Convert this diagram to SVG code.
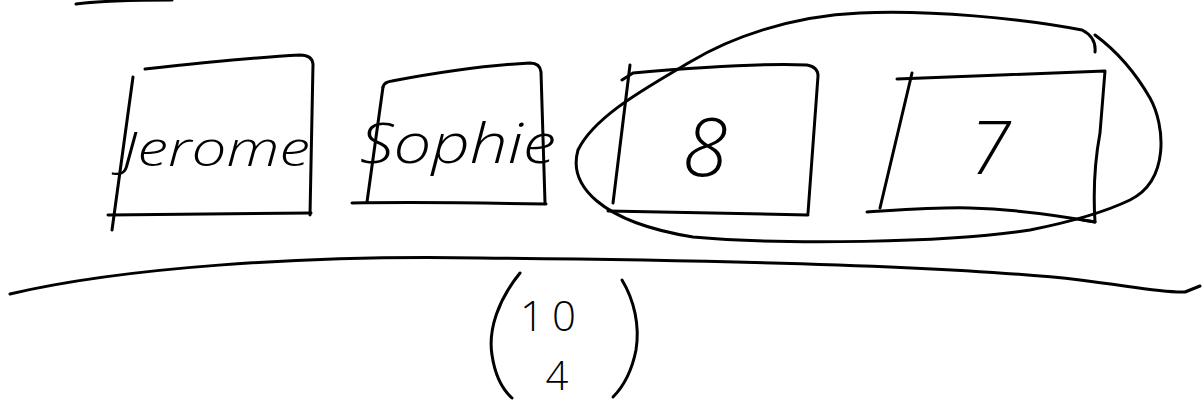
<svg xmlns="http://www.w3.org/2000/svg" width="1202" height="403" viewBox="0 0 1202 403">
<style>
.s{fill:none;stroke:#000;stroke-width:3;stroke-linecap:round;stroke-linejoin:round}
.t{font-family:"Open Sans","Liberation Sans",sans-serif;font-weight:300;fill:#000}
</style>
<rect width="1202" height="403" fill="#fff"/>
<g id="top-fragment"><path class="s" d="M76,4 C100,1 140,0 172,0" stroke-width="4"/></g>
<g id="node-jerome">
<path class="s" d="M145,69 C200,63 260,57 300,55 Q312,55 313,64 L310,215"/>
<path class="s" d="M133,77 L112,230"/>
<path class="s" d="M108,215 C180,214 250,213 311,213"/>
<text class="t" x="122" y="166" font-size="48" font-style="italic" textLength="188" lengthAdjust="spacingAndGlyphs">Jerome</text>
</g>
<g id="node-sophie">
<path class="s" d="M383,87 Q384,82 392,81 C440,72 490,65 530,63 Q540,63 541,72 L545,203"/>
<path class="s" d="M383,87 L367,202"/>
<path class="s" d="M352,203 C420,202 490,203 546,204"/>
<text class="t" x="360" y="163" font-size="56" font-style="italic" textLength="196" lengthAdjust="spacingAndGlyphs">Sophie</text>
</g>
<g id="node-8">
<path class="s" d="M630,65 L613,203"/>
<path class="s" d="M622,80 L633,73 C690,68 760,63 807,65 Q818,67 818,76 L808,213"/>
<path class="s" d="M608,211 C680,212 750,214 808,215"/>
<text class="t" x="705" y="176" font-size="82" text-anchor="middle" font-style="italic">8</text>
</g>
<g id="node-7">
<path class="s" d="M897,79 C960,77 1040,73 1105,71 L1100,133 C1095,160 1093,190 1095,222 L1083,220"/>
<path class="s" d="M912,73 L880,208"/>
<path class="s" d="M867,212 C900,210 940,207 970,208 C1010,209 1050,214 1095,222"/>
<text class="t" x="990" y="174" font-size="74" text-anchor="middle" font-style="italic">7</text>
</g>
<g id="group-loop">
<path class="s" d="M1095,52 C1096,42 1092,35 1082,30 C1020,18 930,10 860,13 C790,16 730,38 690,62 C650,86 595,115 578,150 C568,185 600,222 693,237 C780,245 950,243 1030,230 C1070,222 1105,212 1130,200 C1170,180 1165,125 1150,98 C1135,72 1118,52 1095,35"/>
</g>
<g id="divider">
<path class="s" d="M10,294 C120,268 300,255 480,258 C700,260 950,265 1080,280 C1130,286 1160,293 1185,292 L1200,286"/>
</g>
<g id="binomial">
<path class="s" d="M520,273 C498,300 488,330 492,355 C495,375 503,390 512,398"/>
<path class="s" d="M622,280 C634,300 640,325 636,350 C632,370 624,386 613,397"/>
<text class="t" x="552" y="331" font-size="42" text-anchor="middle" letter-spacing="8">10</text>
<text class="t" x="557" y="390" font-size="40" text-anchor="middle">4</text>
</g>
</svg>
